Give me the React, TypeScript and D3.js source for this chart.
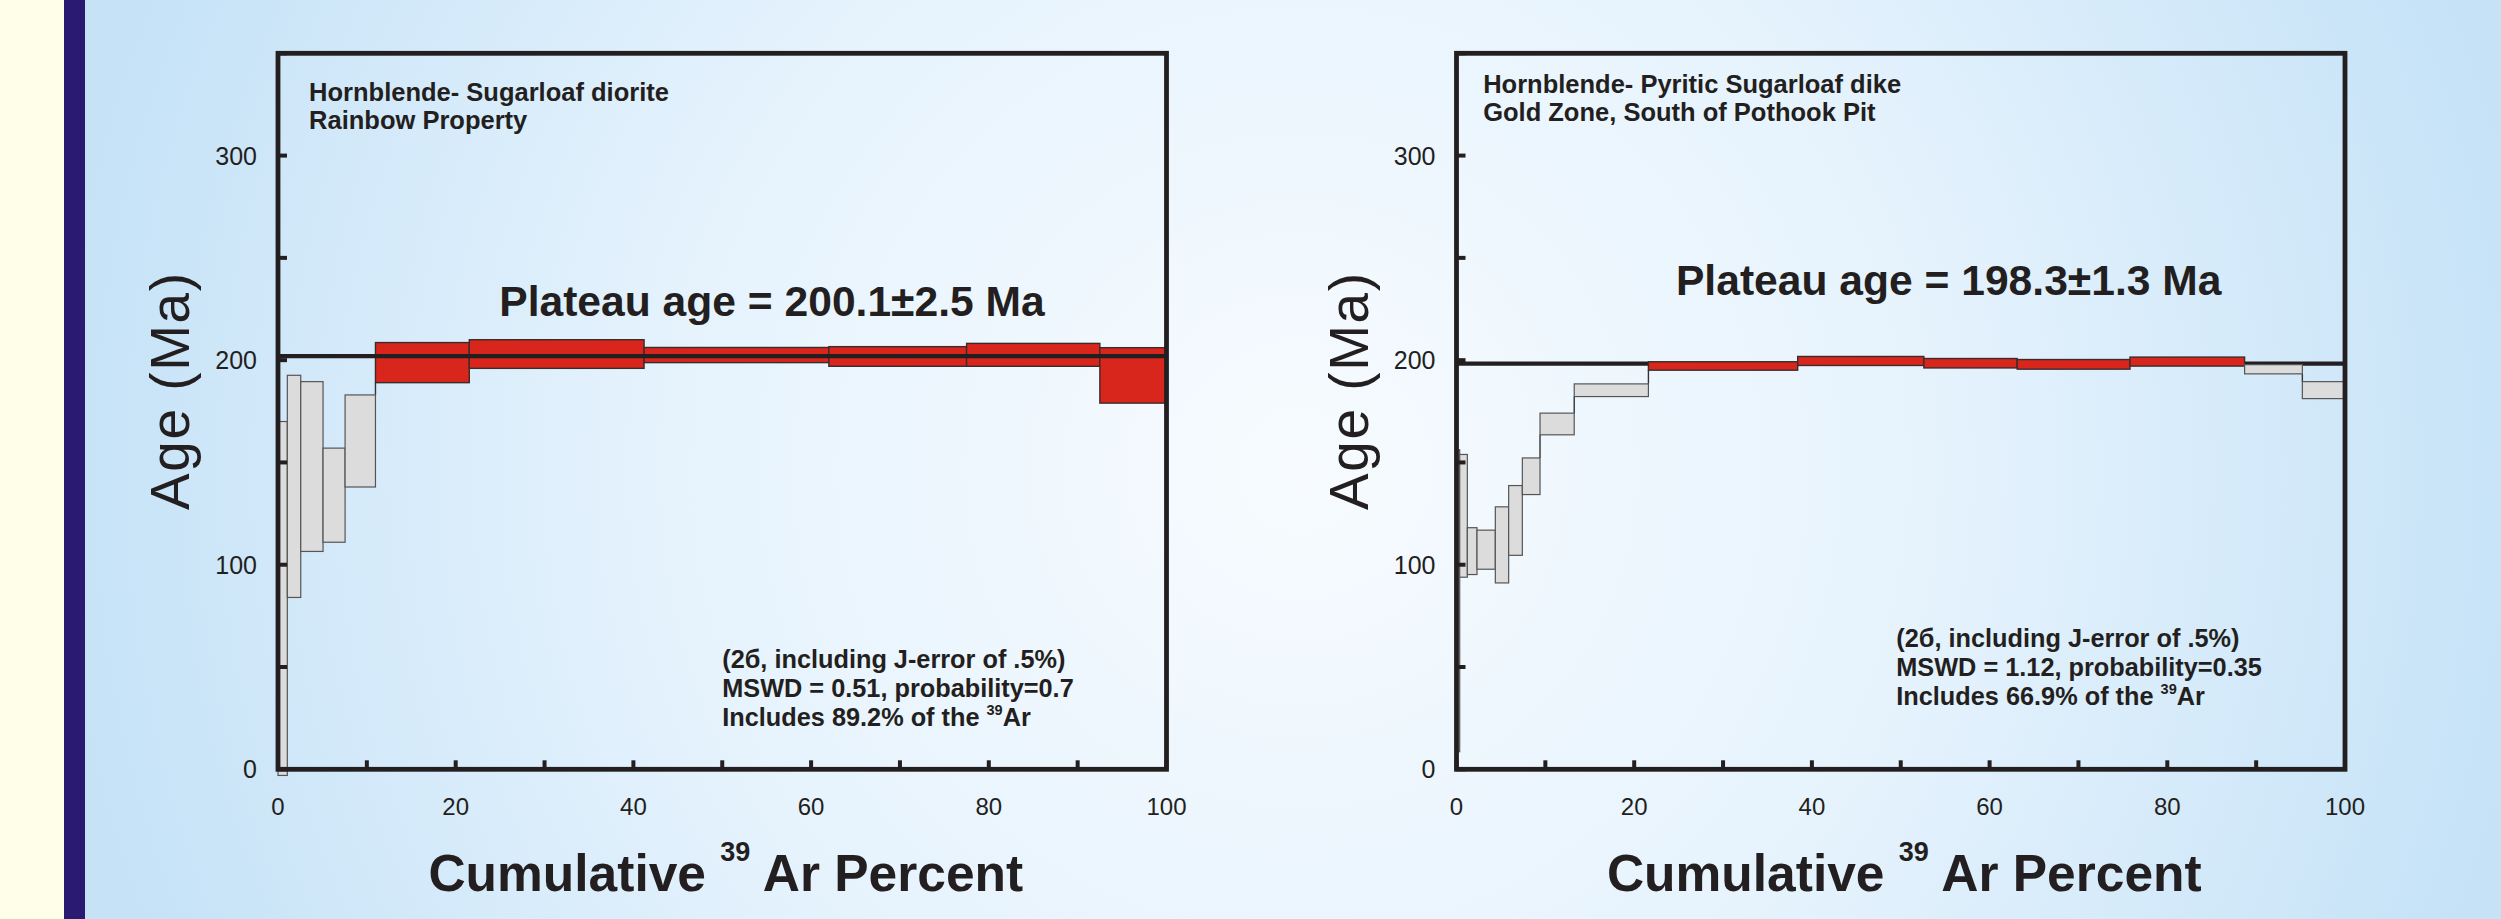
import React from 'react';
import * as d3 from 'd3';

// 40Ar/39Ar age spectra, hornblende, two samples
const ageTicks = [0, 50, 100, 150, 200, 250, 300, 350];
const ageLabels = [0, 100, 200, 300];
const pctTicks = [0, 10, 20, 30, 40, 50, 60, 70, 80, 90, 100];
const pctLabels = [0, 20, 40, 60, 80, 100];

// left: Sugarloaf diorite
const leftEdges = [0, 1.05, 2.56, 5.07, 7.55, 10.97, 21.53, 41.2, 62.0, 77.5, 92.5, 100];
const leftLow = [-3, 84, 106.5, 111, 138, 189, 196, 198.8, 197, 197, 179];
const leftHigh = [170, 192.6, 189.5, 157, 183, 208.6, 210, 206.2, 206.6, 208.2, 206.1];
const leftPlateau = [false, false, false, false, false, true, true, true, true, true, true];
const leftPlateauLine = 202;
const leftTitle = ['Hornblende- Sugarloaf diorite', 'Rainbow Property'];
const leftAgeText = 'Plateau age = 200.1±2.5 Ma';
const leftStats = ['(2б, including J-error of .5%)', 'MSWD = 0.51, probability=0.7', 'Includes 89.2% of the '];

// right: pyritic Sugarloaf dike
const rightEdges = [0, 0.36, 1.22, 2.31, 4.37, 5.87, 7.41, 9.4, 13.25, 21.6, 38.4, 52.6, 63.1, 75.8, 88.7, 95.2, 100];
const rightLow = [8.6, 93.9, 95.2, 97.8, 91.1, 104.6, 134.3, 163.5, 182.2, 195.1, 197.4, 196.2, 195.6, 197.1, 193.3, 181.2];
const rightHigh = [156.2, 153.9, 118.1, 116.9, 128.3, 138.7, 152.2, 174.1, 188.4, 199.2, 201.8, 200.8, 200.3, 201.5, 197.8, 189.5];
const rightPlateau = [false, false, false, false, false, false, false, false, false, true, true, true, true, true, false, false];
const rightPlateauLine = 198.3;
const rightTitle = ['Hornblende- Pyritic Sugarloaf dike', 'Gold Zone, South of Pothook Pit'];
const rightAgeText = 'Plateau age = 198.3±1.3 Ma';
const rightStats = ['(2б, including J-error of .5%)', 'MSWD = 1.12, probability=0.35', 'Includes 66.9% of the '];

const W = 2501;
const H = 919;
const FONT = '"Liberation Sans", Arial, Helvetica, sans-serif';
const INK = '#231f20';

const yScale = d3.scaleLinear().domain([0, 350]).range([769.3, 53.3]);

const Panel = ({ x0, edges, low, high, plateau, lineAge, lineOnTop, title, titleY, ageText, ageTextAt, stats, statsAt }) => {
    const xScale = d3.scaleLinear().domain([0, 100]).range([x0, x0 + 888.5]);
    const steps = d3.range(low.length).map(i => ({
        x1: edges[i], x2: edges[i + 1], lo: low[i], hi: high[i], red: plateau[i]
    }));

    // vertical joins between neighbouring steps that do not overlap
    const joins = d3.pairs(steps).map(([a, b]) => {
        if (a.hi < b.lo) return { x: b.x1, from: a.hi, to: b.lo };
        if (b.hi < a.lo) return { x: b.x1, from: b.hi, to: a.lo };
        return null;
    }).filter(d => d);

    const plateauLine = (
        <line x1={xScale(0)} x2={xScale(100)} y1={yScale(lineAge)} y2={yScale(lineAge)}
            stroke={INK} strokeWidth={4.2} />
    );

    return (
        <g fontFamily={FONT} fill={INK}>
            {!lineOnTop && plateauLine}
            {joins.map((j, i) => (
                <line key={'j' + i} x1={xScale(j.x)} x2={xScale(j.x)} y1={yScale(j.from)} y2={yScale(j.to)}
                    stroke="#333" strokeWidth={1.4} />
            ))}
            {steps.map((s, i) => (
                <rect key={i}
                    x={xScale(s.x1)} width={xScale(s.x2) - xScale(s.x1)}
                    y={yScale(s.hi)} height={yScale(s.lo) - yScale(s.hi)}
                    fill={s.red ? '#d8261d' : '#dcdcdc'}
                    stroke={s.red ? '#3b2c2c' : '#555'}
                    strokeWidth={s.red ? 1.4 : 1.2} />
            ))}
            {lineOnTop && plateauLine}

            {/* frame */}
            <rect x={xScale(0)} y={yScale(350)} width={xScale(100) - xScale(0)} height={yScale(0) - yScale(350)}
                fill="none" stroke={INK} strokeWidth={4.8} />
            {ageTicks.map(t => (
                <line key={'y' + t} x1={xScale(0)} x2={xScale(0) + 9} y1={yScale(t)} y2={yScale(t)}
                    stroke={INK} strokeWidth={4} />
            ))}
            {pctTicks.map(t => (
                <line key={'x' + t} x1={xScale(t)} x2={xScale(t)} y1={yScale(0)} y2={yScale(0) - 9}
                    stroke={INK} strokeWidth={4} />
            ))}
            {ageLabels.map(t => (
                <text key={'yl' + t} x={xScale(0) - 21} y={yScale(t)} dy="0.36em" textAnchor="end" fontSize={25}>{t}</text>
            ))}
            {pctLabels.map(t => (
                <text key={'xl' + t} x={xScale(t)} y={815} textAnchor="middle" fontSize={24}>{t}</text>
            ))}

            {/* axis titles */}
            <text transform={`translate(${xScale(0) - 89},${yScale(184.7)}) rotate(-90)`}
                textAnchor="middle" fontSize={55} textLength={237} lengthAdjust="spacing">Age (Ma)</text>
            <text x={xScale(50.4)} y={891} textAnchor="middle" fontSize={51.5} fontWeight="bold">
                Cumulative <tspan fontSize={27} dy={-30}>39</tspan><tspan dy={30}> Ar Percent</tspan>
            </text>

            {/* annotations */}
            <text fontSize={25.5} fontWeight="bold">
                <tspan x={xScale(title[2])} y={titleY[0]}>{title[0]}</tspan>
                <tspan x={xScale(title[2])} y={titleY[1]}>{title[1]}</tspan>
            </text>
            <text x={xScale(ageTextAt[0])} y={yScale(ageTextAt[1])} fontSize={42.6} fontWeight="bold">{ageText}</text>
            <text fontSize={25.3} fontWeight="bold">
                <tspan x={xScale(statsAt[0])} y={statsAt[1]}>{stats[0]}</tspan>
                <tspan x={xScale(statsAt[0])} y={statsAt[1] + 29}>{stats[1]}</tspan>
                <tspan x={xScale(statsAt[0])} y={statsAt[1] + 58}>{stats[2]}<tspan fontSize={14.5} dy={-11}>39</tspan><tspan dy={11}>Ar</tspan></tspan>
            </text>
        </g>
    );
};

const App = () => {
    return (
        <svg width={W} height={H} style={{ position: 'absolute', left: 0, top: 0 }}>
            <defs>
                <radialGradient id="bg" gradientUnits="userSpaceOnUse" cx={1300} cy={470} r={1250}>
                    <stop offset="0" stopColor="#f7fbff" />
                    <stop offset="0.5" stopColor="#e6f3fd" />
                    <stop offset="1" stopColor="#c5e2f7" />
                </radialGradient>
            </defs>
            <rect x={0} y={0} width={W} height={H} fill="url(#bg)" />
            <rect x={0} y={0} width={64} height={H} fill="#fffee9" />
            <rect x={64} y={0} width={21} height={H} fill="#2b1a72" />

            <Panel x0={278} edges={leftEdges} low={leftLow} high={leftHigh} plateau={leftPlateau}
                lineAge={leftPlateauLine} lineOnTop={true}
                title={[leftTitle[0], leftTitle[1], 3.5]} titleY={[101, 129]}
                ageText={leftAgeText} ageTextAt={[24.9, 221.7]}
                stats={leftStats} statsAt={[50, 668]} />
            <Panel x0={1456.5} edges={rightEdges} low={rightLow} high={rightHigh} plateau={rightPlateau}
                lineAge={rightPlateauLine} lineOnTop={false}
                title={[rightTitle[0], rightTitle[1], 3.0]} titleY={[93, 121]}
                ageText={rightAgeText} ageTextAt={[24.7, 231.9]}
                stats={rightStats} statsAt={[49.5, 647]} />
        </svg>
    );
};

export default App;
